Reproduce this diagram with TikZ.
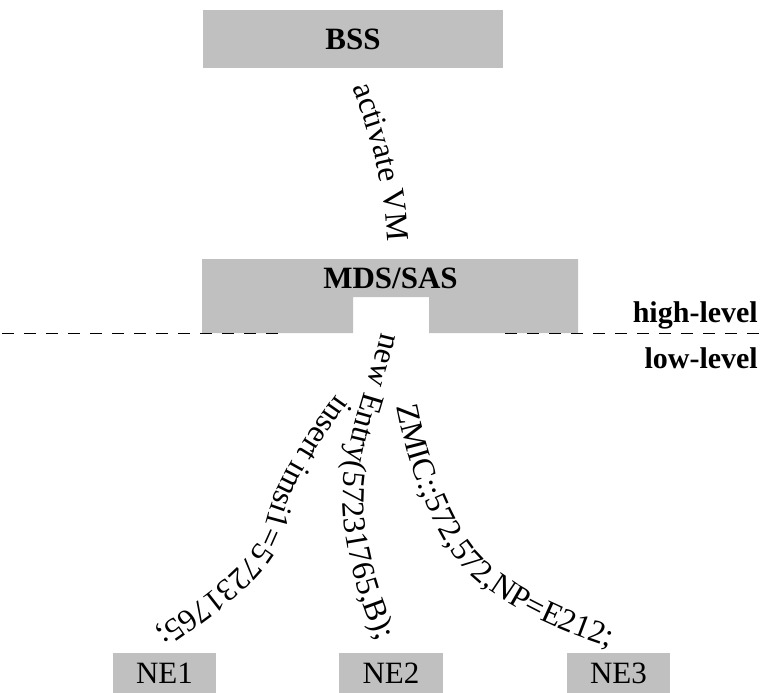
\documentclass[tikz,border=0pt]{standalone}
\usepackage{fontspec}
\setmainfont{Liberation Serif}
\usetikzlibrary{decorations.text}
\definecolor{boxgray}{RGB}{192,192,192}
\newcommand{\lblfont}{\fontsize{31}{37}\selectfont}
\newcommand{\msgfont}{\fontsize{32}{38}\selectfont}
\begin{document}
\begin{tikzpicture}[x=1pt,y=-1pt,
  box/.style={fill=boxgray, draw=none, inner sep=0pt, font=\lblfont},
  title/.style={inner sep=0pt, font=\lblfont\bfseries},
  level/.style={inner sep=0pt, font=\fontsize{30}{36}\selectfont\bfseries, anchor=base east},
  msg/.style={decorate, decoration={text along path, text align=left, text={|\msgfont|#1}}},
  divider/.style={dash pattern=on 12pt off 10pt, line width=1.6pt}
]
\useasboundingbox (0,0) rectangle (760,693);

% top-level system
\node[box, minimum width=300pt, minimum height=58pt] (bss) at (353,39) {\bfseries BSS};

% mediation layer with a gap in its lower edge
\fill[boxgray] (202,259) -- (578,259) -- (578,333) -- (429,333) -- (429,297)
  -- (353,297) -- (353,333) -- (202,333) -- cycle;
\node[title] (mds) at (390.5,278) {MDS/SAS};

% boundary between the two levels
\draw[divider] (2,333.5) coordinate (divL1) -- (279,333.5) coordinate (divL2);
\draw[divider] (505,333.5) coordinate (divR1) -- (760,333.5) coordinate (divR2);
\node[level] (high) at (758,322) {high-level};
\node[level] (low) at (758,368) {low-level};

% network elements
\node[box, minimum width=103pt, minimum height=40pt] (ne1) at (164.5,673) {NE1};
\node[box, minimum width=104pt, minimum height=40pt] (ne2) at (391,673) {NE2};
\node[box, minimum width=103pt, minimum height=40pt] (ne3) at (618.5,673) {NE3};

% messages written along their routes
\coordinate (vmS) at (352,88);
\coordinate (vmE) at (388,262);
\path[msg={activate VM}] (vmS) .. controls (368,128) and (388,185) .. (vmE);

\coordinate (neS) at (381,332);
\coordinate (neM) at (343,510);
\coordinate (neE) at (390,668);
\path[msg={new Entry(57231765,B);}] (neS) .. controls (368,390) and (340,450) .. (neM)
  .. controls (346,560) and (365,620) .. (neE);

\coordinate (inS) at (336,394);
\coordinate (inM) at (266,522);
\coordinate (inE) at (138,643);
\path[msg={insert imsi1=57231765;}] (inS) .. controls (306,436) and (276,480) .. (inM)
  .. controls (256,564) and (200,600) .. (inE);

\coordinate (zmS) at (397,406);
\coordinate (zmM) at (450,550);
\coordinate (zmE) at (640,656);
\path[msg={ZMIC:;572,572,NP=E212;}] (zmS) .. controls (407,460) and (425,510) .. (zmM)
  .. controls (480,598) and (560,635) .. (zmE);
\end{tikzpicture}
\end{document}
